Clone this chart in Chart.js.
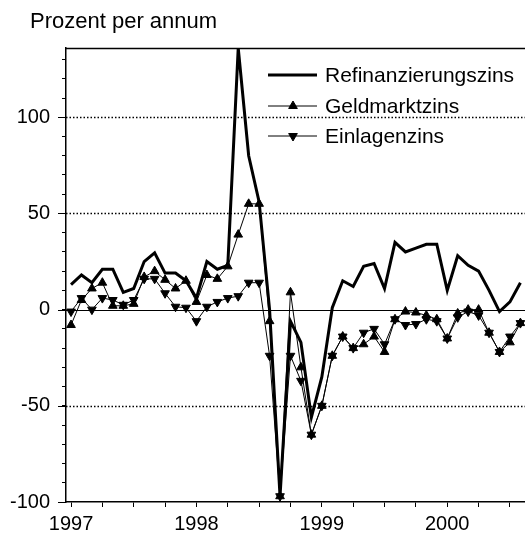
<!DOCTYPE html>
<html>
<head>
<meta charset="utf-8">
<script src="https://cdn.jsdelivr.net/npm/chart.js@4.4.0/dist/chart.umd.min.js"></script>
<style>
  html, body { margin: 0; padding: 0; background: #fff; }
  #wrap { width: 525px; height: 541px; }
</style>
</head>
<body>
<div id="wrap"><canvas id="zinsChart" width="525" height="541"></canvas></div>
<script>
// monthly values, Jan 1997 .. Aug 2000 (Prozent per annum)
const startYear = 1997;
const months = Array.from({ length: 44 }, (_, i) => startYear + i / 12);

const refinanzierungszins = [13, 18, 14, 21, 21, 9, 11, 25, 29.5, 19, 19, 15, 6, 25, 21, 23, 136, 80, 56, 0,
    -97, -6, -17, -56, -35, 1, 15, 12, 22.5, 24, 11, 35, 30, 32, 34, 34, 10, 28, 23, 20, 10, -1, 4, 14];
const geldmarktzins = [-8, 5, 11, 14, 2, 2, 3, 17, 20, 15.5, 11, 15, 4, 18, 16, 22.5, 39, 55, 55, -6,
    -97, 9, -30, -65, -50, -24, -14, -20, -18, -14, -22, -5, -1, -1.5, -3, -5, -15, -2, 0, 0, -12, -22, -17, -7];
const einlagenzins = [-1, 6, 0, 6, 5, 2.5, 5, 16, 16, 8.5, 1.5, 1, -6, 1.5, 4, 6, 7, 14, 14, -24,
    -97, -24, -37, -65, -50, -24, -14, -20, -12, -10, -18, -5, -8, -7.5, -5, -6, -15, -4, -1, -3, -12, -22, -14, -7];

const seriesNames = ['Refinanzierungszins', 'Geldmarktzins', 'Einlagenzins'];
const yearLabels = [1997, 1998, 1999, 2000];
const yLabels = [-100, -50, 0, 50, 100];
const dottedLines = [100, 50, -50];

const FONT = 'Liberation Sans, Arial, Helvetica, sans-serif';

function toPoints(values) {
    return values.map((v, i) => ({ x: months[i], y: v }));
}

const isWhole = v => Math.abs(v - Math.round(v)) < 1e-6;

// dotted reference lines, zero line, top frame, long ticks at labelled values
const framePlugin = {
    id: 'frame',
    beforeDatasetsDraw(chart) {
        const { ctx, chartArea: a, scales: { y } } = chart;
        ctx.save();
        ctx.strokeStyle = '#000';
        ctx.lineWidth = 1.3;
        ctx.setLineDash([1.5, 2]);
        dottedLines.forEach(v => {
            const py = Math.round(y.getPixelForValue(v)) + 0.5;
            ctx.beginPath();
            ctx.moveTo(a.left, py);
            ctx.lineTo(a.right, py);
            ctx.stroke();
        });
        ctx.setLineDash([]);
        ctx.lineWidth = 1.2;
        const z = Math.round(y.getPixelForValue(0)) + 0.5;
        ctx.beginPath();
        ctx.moveTo(a.left, z);
        ctx.lineTo(a.right, z);
        ctx.stroke();
        ctx.lineWidth = 1.5;
        ctx.beginPath();
        ctx.moveTo(a.left, a.top + 0.5);
        ctx.lineTo(a.right, a.top + 0.5);
        ctx.stroke();
        ctx.lineWidth = 1;
        yLabels.forEach(v => {
            const py = Math.round(y.getPixelForValue(v)) + 0.5;
            ctx.beginPath();
            ctx.moveTo(a.left - 8, py);
            ctx.lineTo(a.left, py);
            ctx.stroke();
        });
        ctx.restore();
    },
    afterDraw(chart) {
        const { ctx } = chart;
        ctx.save();
        ctx.fillStyle = '#000';
        ctx.font = '22px ' + FONT;
        ctx.textBaseline = 'alphabetic';
        ctx.textAlign = 'left';
        ctx.fillText('Prozent per annum', 30, 28);

        // legend inside the plot
        ctx.font = '21px ' + FONT;
        const rows = [75, 106, 136];
        chart.data.datasets.forEach((ds, i) => {
            const yy = rows[i];
            ctx.strokeStyle = '#000';
            ctx.lineWidth = ds.borderWidth;
            ctx.beginPath();
            ctx.moveTo(268, yy);
            ctx.lineTo(317, yy);
            ctx.stroke();
            if (ds.pointRadius > 0 && Chart.helpers && Chart.helpers.drawPoint) {
                ctx.fillStyle = '#000';
                ctx.lineWidth = 1;
                Chart.helpers.drawPoint(ctx, {
                    pointStyle: ds.pointStyle,
                    radius: ds.pointRadius,
                    rotation: ds.pointRotation || 0,
                    borderWidth: 1
                }, 293, yy);
            }
            ctx.fillStyle = '#000';
            ctx.textBaseline = 'middle';
            ctx.fillText(ds.label, 325, yy + 1);
        });
        ctx.restore();
    }
};

new Chart(document.getElementById('zinsChart'), {
    type: 'line',
    data: {
        datasets: [{
            label: seriesNames[0],
            data: toPoints(refinanzierungszins),
            borderColor: '#000',
            borderWidth: 3,
            pointRadius: 0,
            tension: 0
        }, {
            label: seriesNames[1],
            data: toPoints(geldmarktzins),
            borderColor: '#000',
            backgroundColor: '#000',
            borderWidth: 1,
            pointStyle: 'triangle',
            pointRadius: 5,
            pointBorderWidth: 1,
            tension: 0
        }, {
            label: seriesNames[2],
            data: toPoints(einlagenzins),
            borderColor: '#000',
            backgroundColor: '#000',
            borderWidth: 1,
            pointStyle: 'triangle',
            pointRotation: 180,
            pointRadius: 5,
            pointBorderWidth: 1,
            tension: 0
        }]
    },
    options: {
        responsive: false,
        animation: false,
        devicePixelRatio: 1,
        layout: { autoPadding: false, padding: { top: 48, right: 0, bottom: 0, left: 0 } },
        plugins: {
            legend: { display: false },
            title: { display: false },
            tooltip: { enabled: false }
        },
        scales: {
            x: {
                type: 'linear',
                min: 1996.96,
                max: 2000.62,
                afterFit(scale) { scale.height = 39; },
                ticks: {
                    stepSize: 0.25,
                    includeBounds: false,
                    autoSkip: false,
                    maxRotation: 0,
                    padding: 5,
                    color: '#000',
                    font: { family: FONT, size: 20 },
                    callback: v => (isWhole(v) && yearLabels.includes(Math.round(v))) ? String(Math.round(v)) : ''
                },
                grid: { drawOnChartArea: false, drawTicks: true, tickLength: 5, tickColor: '#000', tickWidth: 1 },
                border: { display: true, color: '#000', width: 1.5 }
            },
            y: {
                min: -100,
                max: 136,
                afterFit(scale) { scale.width = 66; },
                ticks: {
                    stepSize: 10,
                    includeBounds: false,
                    autoSkip: false,
                    padding: 12,
                    color: '#000',
                    font: { family: FONT, size: 20 },
                    callback: v => (isWhole(v) && yLabels.includes(Math.round(v))) ? String(Math.round(v)) : ''
                },
                grid: { drawOnChartArea: false, drawTicks: true, tickLength: 4, tickColor: '#000', tickWidth: 1 },
                border: { display: true, color: '#000', width: 1.5 }
            }
        }
    },
    plugins: [framePlugin]
});
</script>
</body>
</html>
